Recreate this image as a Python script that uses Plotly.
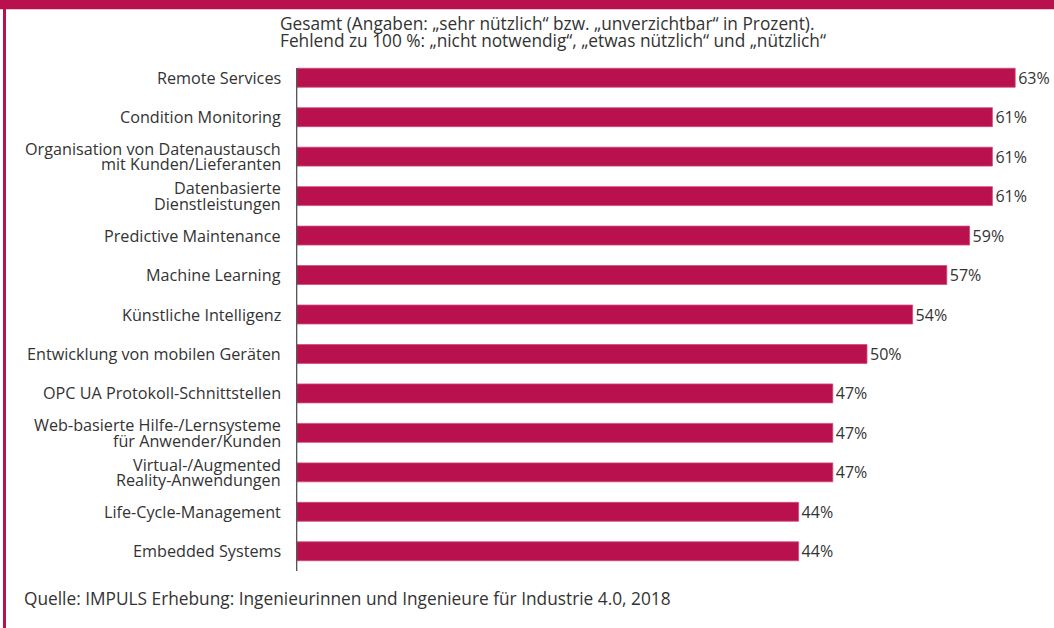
import plotly.graph_objects as go

# Survey results: share answering "sehr nützlich" or "unverzichtbar" (%)
categories = [
    "Remote Services",
    "Condition Monitoring",
    "Organisation von Datenaustausch\nmit Kunden/Lieferanten",
    "Datenbasierte\nDienstleistungen",
    "Predictive Maintenance",
    "Machine Learning",
    "Künstliche Intelligenz",
    "Entwicklung von mobilen Geräten",
    "OPC UA Protokoll-Schnittstellen",
    "Web-basierte Hilfe-/Lernsysteme\nfür Anwender/Kunden",
    "Virtual-/Augmented\nReality-Anwendungen",
    "Life-Cycle-Management",
    "Embedded Systems",
]
values = [63, 61, 61, 61, 59, 57, 54, 50, 47, 47, 47, 44, 44]

subtitle_lines = [
    "Gesamt (Angaben: „sehr nützlich“ bzw. „unverzichtbar“ in Prozent).",
    "Fehlend zu 100 %: „nicht notwendig“, „etwas nützlich“ und „nützlich“",
]
source_text = "Quelle: IMPULS Erhebung: Ingenieurinnen und Ingenieure für Industrie 4.0, 2018"

# Layout geometry (pixels)
W_FIG, H_FIG = 1054, 628
M_L, M_R, M_T, M_B = 297, 0, 58, 57
PLOT_W = W_FIG - M_L - M_R
PLOT_H = H_FIG - M_T - M_B
PX_PER_PCT = 11.4

CRIMSON = "#B9104E"
TEXT = "#333333"
FONT = "Open Sans"


def px_x(px):
    return (px - M_L) / PLOT_W


def px_y(py):
    return (H_FIG - M_B - py) / PLOT_H


ylabels = [c.replace("\n", " ") for c in categories]

fig = go.Figure(
    go.Bar(
        x=values,
        y=ylabels,
        orientation="h",
        marker=dict(color=CRIMSON, line=dict(color="#d04a7c", width=0.8)),
        text=[f"{v}%" for v in values],
        textposition="outside",
        constraintext="none",
        textfont=dict(family=FONT, size=16, color=TEXT),
        cliponaxis=False,
        hoverinfo="skip",
    )
)

annotations = []
# Category labels, drawn line by line for tight leading
line_gap = 15.5
for cat, lab in zip(categories, ylabels):
    parts = cat.split("\n")
    n = len(parts)
    for j, part in enumerate(parts):
        annotations.append(dict(
            x=0, xref="paper", y=lab, yref="y",
            text=part, showarrow=False,
            xanchor="right", yanchor="middle",
            xshift=-14, yshift=((n - 1) / 2 - j) * line_gap,
            font=dict(family=FONT, size=16.2, color=TEXT),
        ))

# Subtitle lines
for j, line in enumerate(subtitle_lines):
    annotations.append(dict(
        x=px_x(278), xref="paper", y=px_y(24 + j * 16.5), yref="paper",
        text=line, showarrow=False, xanchor="left", yanchor="middle",
        font=dict(family=FONT, size=17.3, color=TEXT),
    ))

# Source note
annotations.append(dict(
    x=px_x(22), xref="paper", y=px_y(598), yref="paper",
    text=source_text, showarrow=False, xanchor="left", yanchor="middle",
    font=dict(family=FONT, size=17.3, color=TEXT),
))

shapes = [
    # header band
    dict(type="rect", xref="paper", yref="paper",
         x0=px_x(0), x1=px_x(W_FIG), y0=px_y(9.3), y1=px_y(0),
         fillcolor=CRIMSON, line=dict(width=0), layer="above"),
    # left frame line
    dict(type="rect", xref="paper", yref="paper",
         x0=px_x(3), x1=px_x(6), y0=px_y(H_FIG), y1=px_y(0),
         fillcolor=CRIMSON, line=dict(width=0), layer="above"),
    # category axis line
    dict(type="line", xref="paper", yref="paper",
         x0=px_x(296.7), x1=px_x(296.7), y0=0, y1=px_y(68),
         line=dict(color="#444444", width=1.2)),
]

fig.update_layout(
    width=W_FIG, height=H_FIG,
    margin=dict(l=M_L, r=M_R, t=M_T, b=M_B, pad=0),
    paper_bgcolor="white", plot_bgcolor="white",
    showlegend=False,
    bargap=0.52,
    xaxis=dict(range=[0, PLOT_W / PX_PER_PCT], visible=False, fixedrange=True),
    yaxis=dict(autorange="reversed", showticklabels=False, showline=False,
               showgrid=False, zeroline=False, ticks="", fixedrange=True),
    annotations=annotations,
    shapes=shapes,
    font=dict(family=FONT, color=TEXT),
)

fig.write_html("out.html", config={"displayModeBar": False})
